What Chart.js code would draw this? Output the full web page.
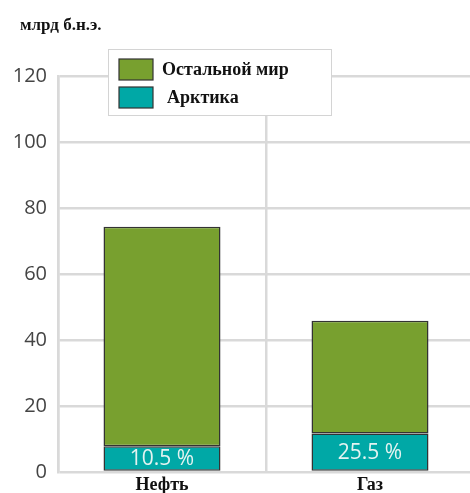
<!DOCTYPE html>
<html>
<head>
<meta charset="utf-8">
<script src="https://cdn.jsdelivr.net/npm/chart.js@4"></script>
<style>
  html, body { margin: 0; padding: 0; background: #fff; overflow: hidden; }
  #wrap { width: 476px; height: 493px; }
</style>
</head>
<body>
<div id="wrap"><canvas id="reserves" width="476" height="493"></canvas></div>
<script>
// Resources, bln t.o.e.
var categories = ['Нефть', 'Газ'];
var arcticValues = [7.8, 11.7];
var restValues = [66.5, 34.1];
var seriesNames = ['Остальной мир', 'Арктика'];
var yTicks = [0, 20, 40, 60, 80, 100, 120];

var greenColor = '#78a02f';
var tealColor = '#00a8a6';
var gridColor = '#d9d9d9';

// Title, legend box and percent labels inside the arctic segments
var overlayPlugin = {
    id: 'overlay',
    afterDraw: function (chart) {
        var ctx = chart.ctx;
        ctx.save();

        ctx.fillStyle = '#111';
        ctx.font = 'bold 17px "Liberation Serif"';
        ctx.textAlign = 'left';
        ctx.textBaseline = 'middle';
        ctx.fillText('млрд б.н.э.', 20, 26);

        // percent share of the arctic part
        var meta = chart.getDatasetMeta(0);
        ctx.font = '21px "Open Sans"';
        ctx.fillStyle = '#e4f3f1';
        ctx.textAlign = 'center';
        meta.data.forEach(function (bar, i) {
            var share = arcticValues[i] / (arcticValues[i] + restValues[i]) * 100;
            var mid = (bar.y + bar.base) / 2;
            ctx.fillText(share.toFixed(1) + ' %', bar.x, mid + 1);
        });

        // legend
        ctx.fillStyle = '#fff';
        ctx.fillRect(108, 49, 223, 66);
        ctx.strokeStyle = '#d4d4d4';
        ctx.lineWidth = 1;
        ctx.strokeRect(108.5, 49.5, 223, 66);
        var legendItems = [
            { name: seriesNames[0], color: greenColor, y: 59, tx: 162 },
            { name: seriesNames[1], color: tealColor, y: 87, tx: 167 }
        ];
        legendItems.forEach(function (item) {
            ctx.fillStyle = item.color;
            ctx.fillRect(119, item.y, 34, 21);
            ctx.strokeStyle = '#333';
            ctx.lineWidth = 1.2;
            ctx.strokeRect(119, item.y, 34, 21);
            ctx.fillStyle = '#111';
            ctx.font = 'bold 18px "Liberation Serif"';
            ctx.textAlign = 'left';
            ctx.textBaseline = 'middle';
            ctx.fillText(item.name, item.tx, item.y + 11);
        });

        ctx.restore();
    }
};

var canvas = document.getElementById('reserves').getContext('2d');
new Chart(canvas, {
    type: 'bar',
    data: {
        labels: categories,
        datasets: [{
            label: seriesNames[1],
            data: arcticValues,
            backgroundColor: tealColor,
            borderColor: '#333',
            borderWidth: 1.5,
            borderSkipped: false,
            barPercentage: 0.5625,
            categoryPercentage: 1
        },
        {
            label: seriesNames[0],
            data: restValues,
            backgroundColor: greenColor,
            borderColor: '#333',
            borderWidth: 1.5,
            borderSkipped: false,
            barPercentage: 0.5625,
            categoryPercentage: 1
        }]
    },
    options: {
        responsive: false,
        animation: false,
        layout: { padding: { top: 76, right: 2, left: 0, bottom: 0 } },
        plugins: {
            legend: { display: false },
            tooltip: { enabled: false }
        },
        scales: {
            x: {
                stacked: true,
                grid: { color: gridColor, lineWidth: 2.5, drawTicks: false, offset: true },
                border: { display: false },
                ticks: {
                    color: '#111',
                    font: { family: '"Liberation Serif"', size: 18, weight: 'bold' },
                    padding: 3
                },
                afterFit: function (scale) { scale.height = 21; }
            },
            y: {
                stacked: true,
                min: 0,
                max: 120,
                afterBuildTicks: function (scale) {
                    scale.ticks = yTicks.map(function (v) { return { value: v }; });
                },
                grid: { color: gridColor, lineWidth: 2.5, drawTicks: false },
                border: { color: gridColor, width: 2.5 },
                ticks: {
                    color: '#444',
                    font: { family: '"Open Sans"', size: 20, lineHeight: 1 },
                    padding: 11
                },
                afterFit: function (scale) {
                    scale.width = 58;
                    scale.paddingBottom = 0;
                }
            }
        }
    },
    plugins: [overlayPlugin]
});
</script>
</body>
</html>
